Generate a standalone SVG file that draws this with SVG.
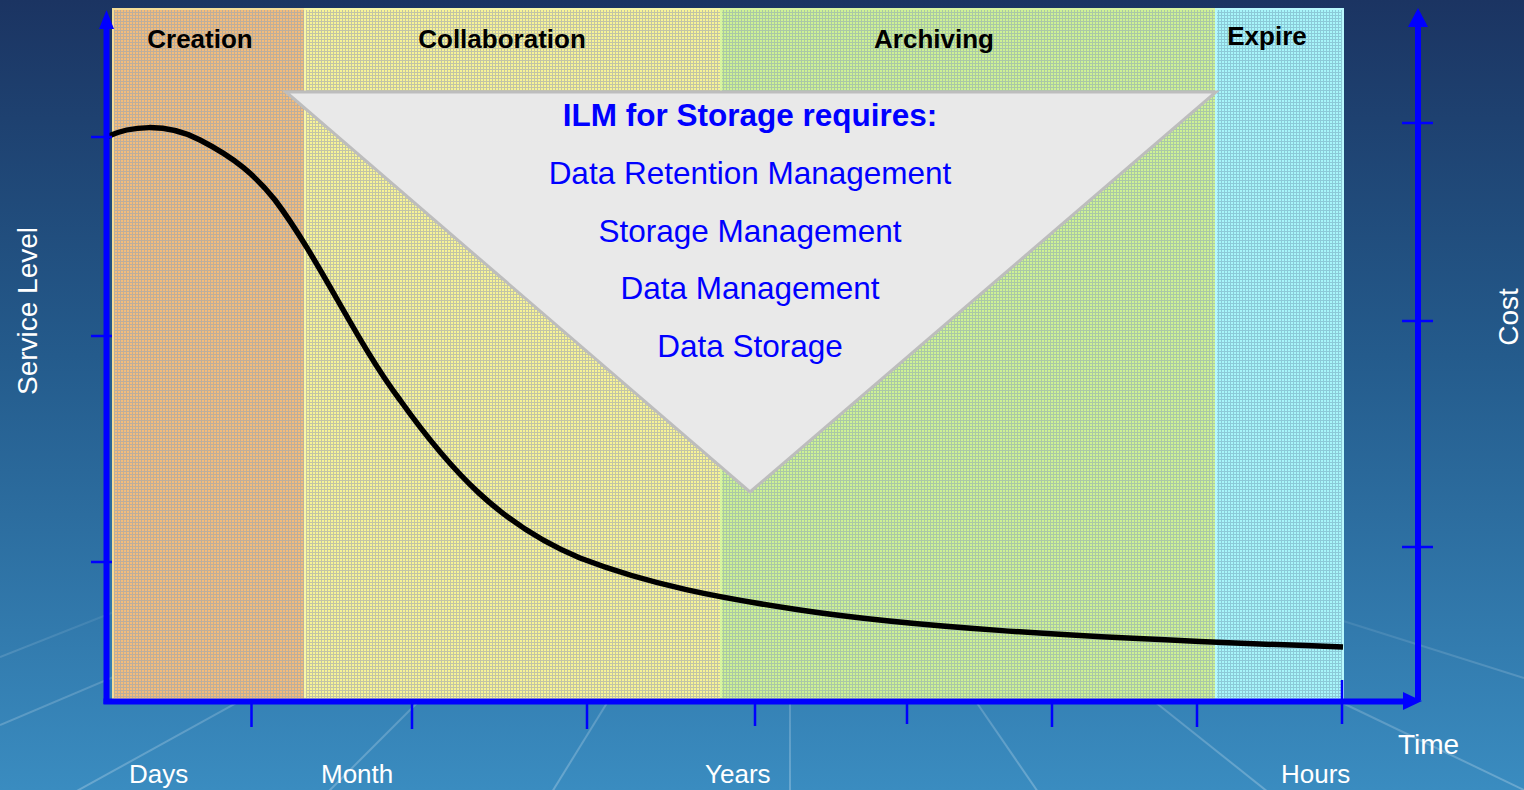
<svg xmlns="http://www.w3.org/2000/svg" width="1524" height="790" viewBox="0 0 1524 790">
  <defs>
    <linearGradient id="bg" x1="0" y1="0" x2="0" y2="1">
      <stop offset="0" stop-color="#1b3462"/>
      <stop offset="0.45" stop-color="#245b8c"/>
      <stop offset="1" stop-color="#3a8cc0"/>
    </linearGradient>
    <linearGradient id="streak" gradientUnits="userSpaceOnUse" x1="0" y1="560" x2="0" y2="790">
      <stop offset="0" stop-color="#ffffff" stop-opacity="0"/>
      <stop offset="0.5" stop-color="#ffffff" stop-opacity="0.16"/>
      <stop offset="1" stop-color="#ffffff" stop-opacity="0.24"/>
    </linearGradient>
    <pattern id="pCreation" width="3" height="3" patternUnits="userSpaceOnUse">
      <rect width="3" height="3" fill="#f4bc7a"/>
      <rect width="3" height="1" fill="#bdae9c"/>
      <rect width="1" height="3" fill="#bdae9c"/>
    </pattern>
    <pattern id="pCollab" width="3" height="3" patternUnits="userSpaceOnUse">
      <rect width="3" height="3" fill="#f8f496"/>
      <rect width="3" height="1" fill="#c2c4a6"/>
      <rect width="1" height="3" fill="#c2c4a6"/>
    </pattern>
    <pattern id="pArch" width="3" height="3" patternUnits="userSpaceOnUse">
      <rect width="3" height="3" fill="#cef294"/>
      <rect width="3" height="1" fill="#aac8a6"/>
      <rect width="1" height="3" fill="#aac8a6"/>
    </pattern>
    <pattern id="pExpire" width="3" height="3" patternUnits="userSpaceOnUse">
      <rect width="3" height="3" fill="#a8f6fa"/>
      <rect width="3" height="1" fill="#8ccad8"/>
      <rect width="1" height="3" fill="#8ccad8"/>
    </pattern>
    <style>
      .band-label { font-family: "Liberation Sans", Arial, sans-serif; font-weight: bold; font-size: 26px; fill: #000; text-anchor: middle; }
      .axis-label { font-family: "Liberation Sans", Arial, sans-serif; font-size: 26px; fill: #ffffff; }
      .axis-title { font-family: "Liberation Sans", Arial, sans-serif; font-size: 28px; fill: #ffffff; }
      .tri-title { font-family: "Liberation Sans", Arial, sans-serif; font-weight: bold; font-size: 31.5px; fill: #0000ff; text-anchor: middle; }
      .tri-item { font-family: "Liberation Sans", Arial, sans-serif; font-size: 31.5px; fill: #0000ff; text-anchor: middle; }
      .axis { stroke: #0000ff; stroke-width: 6; fill: none; }
      .tick { stroke: #0000ff; stroke-width: 2.5; fill: none; }
      .streak { stroke: url(#streak); stroke-width: 2; fill: none; }
    </style>
  </defs>

  <rect id="background" x="0" y="0" width="1524" height="790" fill="url(#bg)"/>
  <g id="streaks">
    <line class="streak" x1="0" y1="657" x2="220" y2="570"/>
    <line class="streak" x1="0" y1="725" x2="260" y2="615"/>
    <line class="streak" x1="75" y1="792" x2="260" y2="690"/>
    <line class="streak" x1="328" y1="792" x2="430" y2="690"/>
    <line class="streak" x1="552" y1="792" x2="615" y2="690"/>
    <line class="streak" x1="790" y1="792" x2="790" y2="690"/>
    <line class="streak" x1="1038" y1="792" x2="968" y2="690"/>
    <line class="streak" x1="1268" y1="792" x2="1140" y2="690"/>
    <line class="streak" x1="1524" y1="790" x2="1330" y2="697"/>
    <line class="streak" x1="1524" y1="678" x2="1340" y2="620"/>
  </g>

  <g id="band-creation">
    <rect x="113" y="9" width="192" height="690" fill="url(#pCreation)" stroke="#f4dc98" stroke-width="2"/>
    <text class="band-label" x="200" y="48">Creation</text>
  </g>
  <g id="band-collaboration">
    <rect x="305" y="9" width="416" height="690" fill="url(#pCollab)" stroke="#f8f6a8" stroke-width="2"/>
    <text class="band-label" x="502" y="48">Collaboration</text>
  </g>
  <g id="band-archiving">
    <rect x="721" y="9" width="495" height="690" fill="url(#pArch)" stroke="#d8f4a0" stroke-width="2"/>
    <text class="band-label" x="934" y="48">Archiving</text>
  </g>
  <g id="band-expire">
    <rect x="1216" y="9" width="127" height="690" fill="url(#pExpire)" stroke="#b8f8fc" stroke-width="2"/>
    <text class="band-label" x="1267" y="45">Expire</text>
  </g>

  <g id="ilm-triangle">
    <polygon points="286,92 1216,92 750,492" fill="#e9e9e9" stroke="#bdbdbd" stroke-width="3" stroke-linejoin="miter"/>
    <text class="tri-title" x="750" y="126">ILM for Storage requires:</text>
    <text class="tri-item" x="750" y="184">Data Retention Management</text>
    <text class="tri-item" x="750" y="242">Storage Management</text>
    <text class="tri-item" x="750" y="299">Data Management</text>
    <text class="tri-item" x="750" y="357">Data Storage</text>
  </g>

  <g id="curve">
    <path d="M106,137 C130,126 165,122 200,140 C235,158 255,175 275,200 C320,260 355,340 400,400 C450,470 500,525 580,558 C650,585 720,598 800,610 C900,625 1050,637 1343,647" fill="none" stroke="#000000" stroke-width="5.5" stroke-linecap="butt"/>
  </g>

  <g id="connectors">
    <line class="axis" x1="106.5" y1="704" x2="106.5" y2="26"/>
    <polygon points="99,29 114,29 106.5,10" fill="#0000ff"/>
    <line class="tick" x1="91" y1="137" x2="112" y2="137"/>
    <line class="tick" x1="91" y1="336" x2="112" y2="336"/>
    <line class="tick" x1="91" y1="562" x2="112" y2="562"/>
    <line class="axis" x1="1418" y1="700" x2="1418" y2="24"/>
    <polygon points="1408,27 1428,27 1418,8" fill="#0000ff"/>
    <line class="tick" x1="1402" y1="123" x2="1433" y2="123"/>
    <line class="tick" x1="1402" y1="321" x2="1433" y2="321"/>
    <line class="tick" x1="1402" y1="547" x2="1433" y2="547"/>
    <line class="axis" x1="103.5" y1="701.5" x2="1405" y2="701.5"/>
    <polygon points="1403,692 1403,710 1422,701" fill="#0000ff"/>
    <line class="tick" x1="251.5" y1="701" x2="251.5" y2="727"/>
    <line class="tick" x1="412" y1="701" x2="412" y2="729"/>
    <line class="tick" x1="587" y1="701" x2="587" y2="729"/>
    <line class="tick" x1="755" y1="701" x2="755" y2="726"/>
    <line class="tick" x1="907" y1="701" x2="907" y2="724"/>
    <line class="tick" x1="1052" y1="701" x2="1052" y2="727"/>
    <line class="tick" x1="1197" y1="701" x2="1197" y2="727"/>
    <line class="tick" x1="1342" y1="680" x2="1342" y2="724"/>
  </g>

  <g id="axis-labels">
    <text class="axis-title" transform="translate(37,311) rotate(-90)" text-anchor="middle">Service Level</text>
    <text class="axis-title" transform="translate(1518,317) rotate(-90)" text-anchor="middle">Cost</text>
    <text class="axis-title" x="1398" y="754">Time</text>
    <text class="axis-label" x="129" y="783">Days</text>
    <text class="axis-label" x="321" y="783">Month</text>
    <text class="axis-label" x="705" y="783">Years</text>
    <text class="axis-label" x="1281" y="783">Hours</text>
  </g>
</svg>
